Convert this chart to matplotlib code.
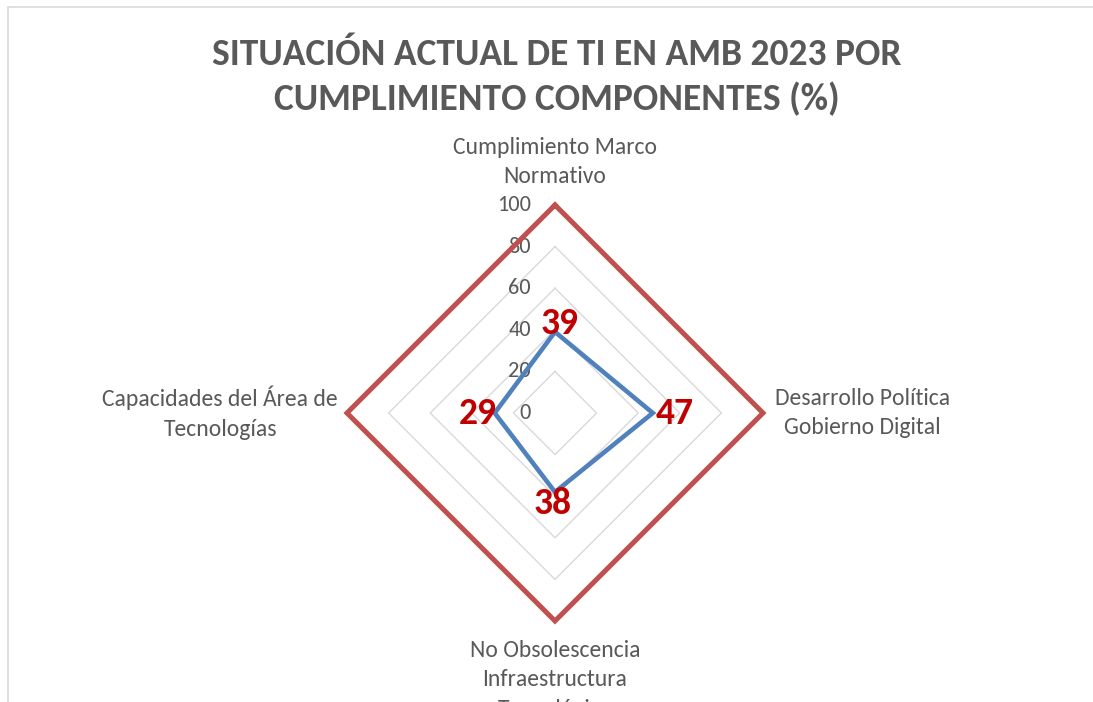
import numpy as np
import matplotlib
matplotlib.use("Agg")
import matplotlib.pyplot as plt
from matplotlib.patches import Rectangle

# Chart data
categories = [
    "Cumplimiento Marco\nNormativo",
    "Desarrollo Política\nGobierno Digital",
    "No Obsolescencia\nInfraestructura\nTecnológica",
    "Capacidades del Área de\nTecnologías",
]
actual = [39, 47, 38, 29]
target = [100, 100, 100, 100]
grid_levels = [0, 20, 40, 60, 80, 100]
tick_labels = ["0", "20", "40", "60", "80", "100"]
title = "SITUACIÓN ACTUAL DE TI EN AMB 2023 POR\nCUMPLIMIENTO COMPONENTES (%)"

plt.rcParams["font.family"] = ["Carlito", "DejaVu Sans"]

TEXT = "#595959"
GRID = "#D9D9D9"
RED = "#C0504D"
BLUE = "#4F81BD"
LABEL = "#C00000"

W, H, DPI = 1093, 702, 100
fig = plt.figure(figsize=(W / DPI, H / DPI), dpi=DPI)
px = 72.0 / DPI  # points per pixel

# chart-area frame (runs off the right and bottom edges)
fig.patches.append(Rectangle((8 / W, -0.1), 1.2, (H - 7) / H + 0.1,
                             transform=fig.transFigure, fill=False,
                             edgecolor=GRID, linewidth=1.2))

fig.text(557 / W, 1 - 77 / H, title, ha="center", va="center",
         fontsize=27, fontweight="bold", color=TEXT, linespacing=1.35)

cx, cy, R = 555, 413, 208
ax = fig.add_axes([(cx - R) / W, (H - cy - R) / H, 2 * R / W, 2 * R / H],
                  projection="polar")
ax.set_theta_zero_location("N")
ax.set_theta_direction(-1)
ax.set_ylim(0, 100)
ax.grid(False)
ax.set_xticks([])
ax.set_yticks([])
ax.spines["polar"].set_visible(False)
ax.patch.set_alpha(0)

n = len(categories)
theta = np.linspace(0, 2 * np.pi, n, endpoint=False)
theta_c = np.append(theta, theta[0])

def closed(vals):
    return np.append(vals, vals[0])

# polygonal gridlines
for lv in grid_levels[1:]:
    ax.plot(theta_c, [lv] * (n + 1), color=GRID, linewidth=1.0, zorder=1,
            clip_on=False)

ax.plot(theta_c, closed(target), color=RED, linewidth=3.6, zorder=3,
        clip_on=False, solid_joinstyle="miter")
ax.plot(theta_c, closed(actual), color=BLUE, linewidth=3.3, zorder=4,
        clip_on=False, solid_joinstyle="miter")

# radial tick labels along the top spoke
for lv, lab in zip(grid_levels, tick_labels):
    ax.annotate(lab, xy=(0, lv), xytext=(-24 * px, 0), textcoords="offset points",
                ha="right", va="center", fontsize=16, color=TEXT,
                annotation_clip=False, zorder=2)

# category labels
cat_pos = [
    dict(xytext=(0, 43 * px), ha="center", va="center"),
    dict(xytext=(12 * px, 0), ha="left", va="center"),
    dict(xytext=(0, -59 * px), ha="center", va="center"),
    dict(xytext=(-9 * px, 0), ha="right", va="center"),
]
for t, lab, pos in zip(theta, categories, cat_pos):
    ax.annotate(lab, xy=(t, 100), textcoords="offset points",
                multialignment="center", fontsize=17, color=TEXT,
                linespacing=1.5, annotation_clip=False, **pos)

# value labels
val_off = [(5, 8), (22, 0), (-2, -11), (-17, 0)]
for t, v, (dx, dy) in zip(theta, actual, val_off):
    ax.annotate(f"{v}", xy=(t, v), xytext=(dx * px, dy * px),
                textcoords="offset points", ha="center", va="center",
                fontsize=27, fontweight="bold", color=LABEL,
                annotation_clip=False, zorder=5)

fig.savefig("out.png", dpi=DPI)
